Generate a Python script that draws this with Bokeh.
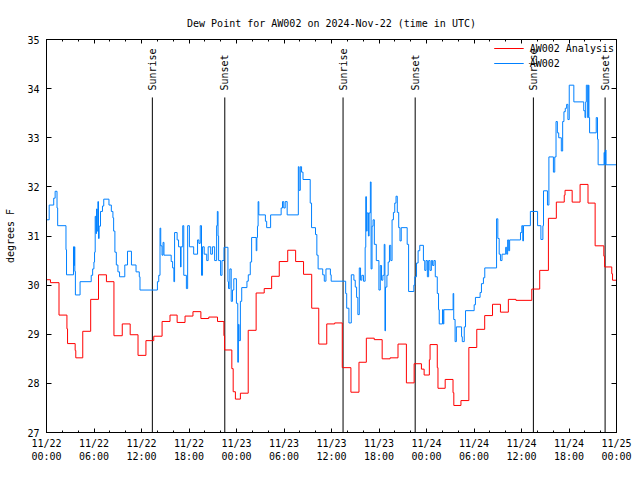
from math import pi
from bokeh.plotting import figure
from bokeh.models import LinearAxis, FixedTicker, Range1d, Legend, LegendItem
from bokeh.core.properties import value
from bokeh.embed import file_html
from bokeh.resources import INLINE

FONT = "DejaVu Sans Mono"

# ---------------- data (hours since 2024-11-22 00:00 UTC) ----------------
red_hours = [0.0, 0.5, 1.58, 2.58, 2.66, 3.62, 3.7, 4.58, 5.58, 6.57, 7.57, 8.52,
             9.57, 10.57, 11.56, 12.56, 13.55, 14.6, 15.6, 16.5, 17.5, 18.5, 19.5,
             20.5, 21.6, 22.41, 22.5, 23.41, 23.58, 23.86, 24.49, 25.48, 26.48,
             27.5, 28.44, 29.4, 30.47, 31.47, 32.47, 33.5, 34.39, 35.4, 36.4,
             37.36, 38.45, 39.47, 40.4, 41.4, 42.4, 43.4, 44.4, 45.46, 46.44,
             47.36, 47.7, 48.36, 48.45, 49.36, 49.45, 50.36, 51.35, 51.45, 52.35,
             53.35, 54.35, 55.35, 56.34, 57.34, 58.34, 59.3, 61.3, 62.3, 63.4,
             64.4, 65.4, 65.5, 66.4, 67.4, 68.4, 69.3, 70.4, 70.5, 71.4, 71.5, 72.0]
red_vals = [30.11, 30.05, 29.39, 29.11, 28.81, 28.67, 28.52, 29.06, 29.71, 30.21, 30.07, 28.97,
            29.21, 28.99, 28.57, 28.87, 28.96, 29.26, 29.39, 29.24, 29.37, 29.46, 29.32,
            29.35, 29.26, 28.97, 28.68, 28.30, 27.83, 27.68, 27.80, 29.08, 29.84,
            29.93, 30.18, 30.48, 30.71, 30.48, 30.22, 29.53, 28.80, 29.21, 29.23,
            28.32, 27.82, 28.43, 28.92, 28.89, 28.50, 28.52, 28.80, 28.01, 28.40,
            28.29, 28.17, 28.48, 28.79, 28.32, 27.90, 28.08, 27.81, 27.55, 27.65,
            28.73, 29.10, 29.38, 29.61, 29.45, 29.71, 29.69, 29.92, 30.30, 31.36,
            31.69, 31.83, 31.93, 31.69, 32.05, 31.67, 30.80, 30.59, 30.37, 30.23, 30.10, 30.10]

blue_hours = [
    0.00, 0.34, 0.91, 1.09, 1.33, 1.41, 2.46, 2.53, 3.41, 3.47, 3.53, 3.58, 3.65, 4.24,
    5.65, 5.83, 5.99, 6.07, 6.15, 6.24, 6.32, 6.40, 6.49, 6.57, 6.65, 6.82, 7.07, 7.23,
    7.89, 8.19, 8.39, 8.48, 8.64, 8.82, 9.02, 9.23, 9.89, 10.23, 10.73, 11.31, 11.72, 11.81,
    14.01, 14.18, 14.34, 14.43, 14.59, 14.72, 14.84, 15.75, 15.93, 16.09, 16.18, 16.50,
    16.68, 16.93, 17.00, 17.21, 17.34, 17.67, 17.83, 18.05, 18.59, 19.08, 19.25, 19.42,
    19.58, 19.71, 19.92, 20.24, 20.42, 20.74, 20.96, 21.24, 21.49, 21.58, 21.67, 21.74,
    21.99, 22.17, 22.42, 22.92, 22.99, 23.16, 23.33, 23.49, 23.66, 23.99, 24.16, 24.24,
    24.32, 24.49, 24.66, 25.32, 25.49, 25.74, 25.91, 26.49, 26.57, 26.65, 26.73, 26.82,
    27.65, 27.81, 28.31, 29.64, 29.81, 29.97, 30.15, 30.40, 31.81, 31.90, 32.06, 32.22,
    32.40, 33.31, 33.48, 33.98, 34.15, 34.31, 34.89, 35.09, 35.30, 35.86, 35.96, 37.79,
    37.92, 38.20, 38.50, 38.83, 39.00, 39.17, 39.33, 39.51, 39.67, 39.83, 40.04, 40.25,
    40.33, 40.41, 40.50, 40.66, 40.75, 40.91, 41.00, 41.12, 41.25, 41.41, 41.66, 41.99,
    42.16, 42.32, 42.49, 42.66, 42.75, 42.82, 43.00, 43.16, 43.32, 43.49, 43.65, 43.82,
    43.99, 44.15, 44.31, 44.49, 44.65, 44.81, 45.56, 45.74, 46.40, 46.52, 46.74, 46.94,
    47.15, 47.61, 47.78, 47.94, 48.11, 48.27, 48.44, 48.61, 48.77, 48.94, 49.11, 49.36,
    49.52, 49.61, 50.02, 50.11, 50.19, 51.36, 51.44, 51.61, 51.77, 52.43, 52.52, 52.77,
    52.93, 54.02, 54.18, 54.77, 54.94, 55.19, 55.36, 56.85, 57.01, 57.18, 57.34, 57.54,
    58.00, 58.13, 58.25, 58.38, 58.50, 59.87, 60.04, 60.16, 60.25, 61.12, 62.03, 62.45,
    62.70, 62.78, 63.28, 63.46, 64.03, 64.20, 64.36, 64.53, 64.70, 65.03, 65.20, 65.36,
    65.53, 65.70, 65.86, 66.03, 66.61, 67.86, 68.02, 68.11, 68.19, 68.36, 68.44, 68.52,
    68.60, 69.44, 69.60, 69.68, 70.43, 70.51, 70.60, 70.68, 72.00]
blue_vals = [
    31.33, 31.63, 31.77, 31.91, 31.57, 31.21, 30.72, 30.21, 30.78, 30.40, 30.78, 30.28, 29.80, 30.07,
    30.20, 30.33, 30.47, 30.67, 31.40, 31.05, 31.55, 31.10, 31.70, 30.95, 31.20, 31.50, 31.61, 31.75,
    31.63, 31.50, 31.37, 31.10, 30.67, 30.41, 30.27, 30.17, 30.41, 30.69, 30.41, 30.27, 30.17, 29.90,
    30.07, 30.20, 31.16, 30.80, 30.61, 30.87, 30.61, 30.48, 30.35, 30.07, 31.07, 30.92,
    30.78, 30.37, 30.78, 31.21, 30.20, 29.93, 31.21, 30.78, 30.63, 30.92, 30.85, 31.21,
    30.20, 30.78, 30.63, 30.50, 30.78, 30.63, 30.78, 30.50, 31.21, 31.50, 31.00, 30.50,
    30.20, 30.50, 30.77, 30.07, 29.93, 30.33, 29.67, 29.90, 30.13, 29.63, 28.43, 29.20,
    28.87, 29.67, 29.95, 30.08, 30.21, 30.47, 30.97, 30.70, 30.97, 31.20, 31.70, 31.43,
    31.30, 31.17, 31.43, 31.57, 31.70, 31.57, 31.70, 31.43, 32.41, 31.93, 32.41, 32.30,
    32.15, 31.67, 31.17, 31.03, 30.61, 30.33, 30.21, 30.08, 30.33, 30.21, 30.08, 29.83,
    29.53, 29.23, 30.21, 30.10, 29.96, 29.75, 29.40, 30.35, 30.10, 30.20, 30.08, 30.77,
    31.80, 31.10, 31.47, 31.00, 31.47, 32.10, 30.33, 31.20, 31.33, 30.83, 30.50, 29.90,
    30.40, 30.10, 30.20, 30.83, 29.07, 29.96, 30.20, 30.47, 30.81, 30.50, 31.33, 31.48,
    31.67, 31.81, 31.48, 31.17, 30.90, 31.17, 30.83, 29.87, 30.00, 30.17, 30.45, 30.70,
    30.81, 30.50, 30.30, 30.50, 30.17, 30.50, 30.30, 30.50, 30.40, 30.50, 30.17, 29.83,
    29.50, 29.21, 29.50, 29.21, 29.50, 29.83, 29.30, 28.85, 29.15, 28.95, 28.85, 29.15,
    29.48, 29.60, 29.75, 29.85, 30.03, 30.15, 30.35, 31.35, 30.95, 30.63, 30.50, 30.63,
    30.77, 30.63, 30.92, 30.70, 30.92, 31.07, 31.21, 30.90, 31.21, 31.50, 31.21, 30.93,
    31.21, 31.92, 31.63, 32.61, 32.30, 32.61, 33.33, 33.10, 33.00, 32.73, 33.33, 33.53,
    33.60, 33.68, 33.37, 34.07, 33.73, 33.55, 33.41, 33.73, 34.07, 33.41, 34.07, 33.41,
    33.10, 33.41, 32.97, 32.45, 32.70, 32.45, 32.75, 32.45, 32.45]
assert len(blue_hours) == len(blue_vals)
assert len(red_hours) == len(red_vals)

sun_hours = [13.37, 22.52, 37.46, 46.57, 61.5, 70.56]
sun_labels = ["Sunrise", "Sunset", "Sunrise", "Sunset", "Sunrise", "Sunset"]

x_tick_hours = [0, 6, 12, 18, 24, 30, 36, 42, 48, 54, 60, 66, 72]
x_tick_labels = ["11/22\n00:00", "11/22\n06:00", "11/22\n12:00", "11/22\n18:00",
                 "11/23\n00:00", "11/23\n06:00", "11/23\n12:00", "11/23\n18:00",
                 "11/24\n00:00", "11/24\n06:00", "11/24\n12:00", "11/24\n18:00",
                 "11/25\n00:00"]
x_minor_hours = [h for h in range(0, 73, 2)]
y_ticks = [27, 28, 29, 30, 31, 32, 33, 34, 35]

# ---------------- figure ----------------
p = figure(width=632, height=464, x_range=Range1d(0, 72), y_range=Range1d(27, 35),
           output_backend="svg", toolbar_location=None,
           min_border_left=46, min_border_right=16, min_border_top=39, min_border_bottom=26)
p.grid.visible = False
p.outline_line_color = "black"
p.background_fill_color = "white"

p.title.text = "Dew Point for AW002 on 2024-Nov-22 (time in UTC)"
p.title.align = "center"
p.title.text_font = FONT
p.title.text_font_size = "10px"
p.title.text_font_style = "normal"
p.title.text_color = "black"
p.title.standoff = 21

xt = FixedTicker(ticks=x_tick_hours, minor_ticks=x_minor_hours)
yt = FixedTicker(ticks=y_ticks, minor_ticks=[])


def style_x(ax):
    ax.ticker = xt
    ax.axis_line_color = "black"
    ax.major_tick_in = 4
    ax.major_tick_out = 0
    ax.minor_tick_in = 2
    ax.minor_tick_out = 0
    ax.major_tick_line_color = "black"
    ax.minor_tick_line_color = "black"


def style_y(ax):
    ax.ticker = yt
    ax.axis_line_color = "black"
    ax.major_tick_in = 5
    ax.major_tick_out = 0
    ax.minor_tick_line_color = None
    ax.major_tick_line_color = "black"


def labels_on(ax, standoff):
    ax.major_label_text_font = FONT
    ax.major_label_text_font_size = "10px"
    ax.major_label_text_color = "black"
    ax.major_label_standoff = standoff


def labels_off(ax):
    ax.major_label_text_font_size = "1px"
    ax.major_label_text_color = None
    ax.major_label_standoff = 0


style_x(p.xaxis[0])
labels_on(p.xaxis[0], 5)
p.xaxis[0].major_label_overrides = {h: lab for h, lab in zip(x_tick_hours, x_tick_labels)}
style_y(p.yaxis[0])
labels_on(p.yaxis[0], 7)
p.yaxis[0].axis_label = "degrees F"
p.yaxis[0].axis_label_text_font = FONT
p.yaxis[0].axis_label_text_font_size = "10px"
p.yaxis[0].axis_label_text_font_style = "normal"
p.yaxis[0].axis_label_text_color = "black"
p.yaxis[0].axis_label_standoff = 8

top = LinearAxis()
style_x(top)
labels_off(top)
p.add_layout(top, "above")
right = LinearAxis()
style_y(right)
labels_off(right)
p.add_layout(right, "right")

# sunrise / sunset markers
SUN_LINE_TOP = 33.82
SUN_LABEL_Y = 33.96
p.segment(x0=sun_hours, y0=27, x1=sun_hours, y1=SUN_LINE_TOP, line_color="black", line_width=1)
p.text(x=sun_hours, y=SUN_LABEL_Y, text=sun_labels, angle=pi / 2,
       text_align="left", text_baseline="middle", text_font=value(FONT),
       text_font_size="10px", text_color="black")

r_red = p.step(red_hours, red_vals, mode="after", line_color="#ff0000", line_width=1)
r_blue = p.step(blue_hours, blue_vals, mode="after", line_color="#0080ff", line_width=1)

legend = Legend(items=[LegendItem(label="AW002 Analysis", renderers=[r_red]),
                       LegendItem(label="AW002", renderers=[r_blue])],
                location="top_right", background_fill_alpha=0, border_line_color=None,
                label_text_font=FONT, label_text_font_size="10px", label_text_color="black",
                glyph_width=30, glyph_height=14, label_height=14, spacing=1,
                padding=1, margin=2, label_standoff=6)
p.add_layout(legend)

open("out.html", "w").write(file_html(p, INLINE))
